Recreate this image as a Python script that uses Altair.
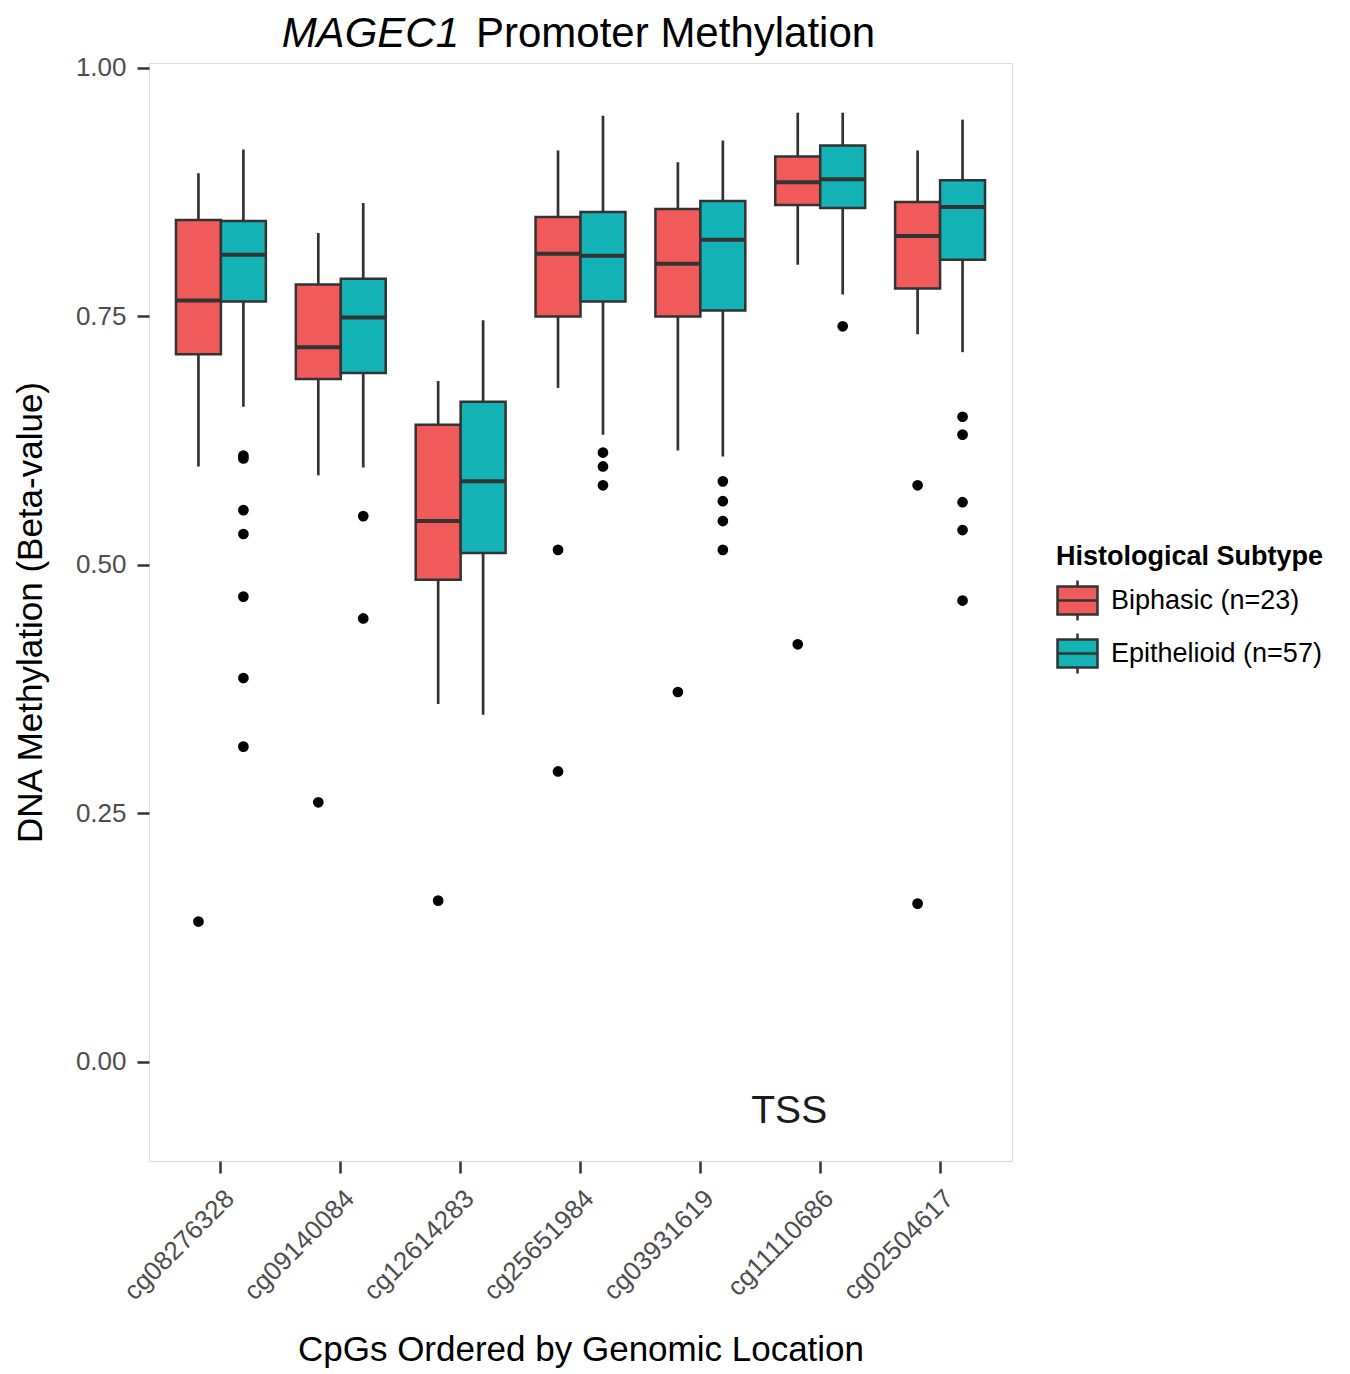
import altair as alt
import pandas as pd

cpgs = ["cg08276328", "cg09140084", "cg12614283", "cg25651984",
        "cg03931619", "cg11110686", "cg02504617"]
subtypes = ["Biphasic (n=23)", "Epithelioid (n=57)"]
colors = ["#F15A5A", "#13B3B5"]

# Biphasic box statistics
bi_lower = [0.599, 0.590, 0.360, 0.678, 0.615, 0.802, 0.732]
bi_q1 = [0.712, 0.687, 0.485, 0.750, 0.750, 0.862, 0.778]
bi_median = [0.766, 0.719, 0.544, 0.813, 0.803, 0.885, 0.831]
bi_q3 = [0.847, 0.782, 0.641, 0.850, 0.858, 0.911, 0.865]
bi_upper = [0.894, 0.834, 0.685, 0.917, 0.905, 0.955, 0.917]
bi_outliers = [[0.141], [0.261], [0.162], [0.515, 0.292], [0.372], [0.420], [0.580, 0.159]]

# Epithelioid box statistics
ep_lower = [0.659, 0.598, 0.349, 0.631, 0.609, 0.772, 0.714]
ep_q1 = [0.765, 0.693, 0.512, 0.765, 0.756, 0.859, 0.807]
ep_median = [0.812, 0.749, 0.584, 0.811, 0.827, 0.888, 0.860]
ep_q3 = [0.846, 0.788, 0.664, 0.855, 0.866, 0.922, 0.887]
ep_upper = [0.918, 0.864, 0.746, 0.952, 0.927, 0.955, 0.948]
ep_outliers = [[0.610, 0.607, 0.555, 0.531, 0.468, 0.386, 0.317], [0.549, 0.446], [],
               [0.613, 0.599, 0.580], [0.584, 0.564, 0.544, 0.515], [0.740],
               [0.649, 0.631, 0.563, 0.535, 0.464]]

y_ticks = [0.0, 0.25, 0.5, 0.75, 1.0]

rows = []
out_rows = []
for sub, lo, q1, md, q3, up, outs in [
    (subtypes[0], bi_lower, bi_q1, bi_median, bi_q3, bi_upper, bi_outliers),
    (subtypes[1], ep_lower, ep_q1, ep_median, ep_q3, ep_upper, ep_outliers),
]:
    for i, c in enumerate(cpgs):
        rows.append(dict(cpg=c, subtype=sub, lower=lo[i], q1=q1[i], median=md[i],
                         q3=q3[i], upper=up[i]))
        for v in outs[i]:
            out_rows.append(dict(cpg=c, subtype=sub, value=v))

stats = pd.DataFrame(rows)
outl = pd.DataFrame(out_rows)

xenc = alt.X("cpg:N", sort=cpgs,
             scale=alt.Scale(paddingInner=0, paddingOuter=0.1),
             axis=alt.Axis(title="CpGs Ordered by Genomic Location", labelAngle=315,
                           labelAlign="right", labelBaseline="top",
                           labelFontSize=26, labelColor="#4d4d4d", labelPadding=12,
                           titleFontSize=35, titleFontWeight="normal", titleColor="#000000",
                           titlePadding=28, tickSize=12, tickWidth=2.5, tickColor="#333333",
                           domain=False, grid=False))
xoff = alt.XOffset("subtype:N", sort=subtypes,
                   scale=alt.Scale(paddingInner=0, paddingOuter=0.3333))
yscale = alt.Scale(domain=[-0.1, 1.005], nice=False, zero=False)
yaxis = alt.Axis(title="DNA Methylation (Beta-value)", values=y_ticks, format=".2f",
                 labelFontSize=26, labelColor="#4d4d4d", labelPadding=11,
                 titleFontSize=35, titleFontWeight="normal", titleColor="#000000",
                 titlePadding=27, tickSize=12, tickWidth=2.5, tickColor="#333333",
                 domain=False, grid=False)

base = alt.Chart(stats)

whisk = base.mark_rule(color="#333333", strokeWidth=2.7).encode(
    x=xenc, xOffset=xoff,
    y=alt.Y("lower:Q", scale=yscale, axis=yaxis), y2="upper:Q")

box = base.mark_bar(stroke="#333333", strokeWidth=2.5, opacity=1).encode(
    x=xenc, xOffset=xoff,
    y=alt.Y("q1:Q", scale=yscale, axis=yaxis), y2="q3:Q",
    color=alt.Color("subtype:N", sort=subtypes,
                    scale=alt.Scale(domain=subtypes, range=colors),
                    legend=alt.Legend(
                        title="Histological Subtype", orient="none",
                        legendX=907, legendY=481,
                        titleFontSize=27, titleFontWeight="bold", titleColor="#000000",
                        titlePadding=8, labelFontSize=27, labelColor="#000000",
                        labelOffset=12, rowPadding=2, labelLimit=0, titleLimit=0,
                        symbolType="M-1,-0.7H1V0.7H-1Z M-1,0H1 M0,-0.7V-1 M0,0.7V1",
                        symbolSize=1600, symbolStrokeColor="#333333",
                        symbolStrokeWidth=2.5, symbolOpacity=1)))

med = base.mark_tick(color="#333333", thickness=4, size=45, opacity=1).encode(
    x=xenc, xOffset=xoff, y=alt.Y("median:Q", scale=yscale, axis=yaxis))

pts = alt.Chart(outl).mark_circle(color="#000000", size=115, opacity=1).encode(
    x=xenc, xOffset=xoff, y=alt.Y("value:Q", scale=yscale, axis=yaxis))

tss = alt.Chart(pd.DataFrame({"cpg": ["cg11110686"], "y": [-0.05], "t": ["TSS"]})).mark_text(
    fontSize=39, color="#1a1a1a", dx=-31, baseline="middle", font="Liberation Sans").encode(
    x=xenc, y=alt.Y("y:Q", scale=yscale, axis=yaxis), text="t:N")

title_df = pd.DataFrame({"a": ["MAGEC1"], "b": ["Promoter Methylation"]})
t1 = alt.Chart(title_df).mark_text(fontSize=42, fontStyle="italic", align="right",
                                   baseline="alphabetic", color="#000000",
                                   font="Liberation Sans").encode(
    x=alt.value(310), y=alt.value(-16), text="a:N")
t2 = alt.Chart(title_df).mark_text(fontSize=42, align="left",
                                   baseline="alphabetic", color="#000000",
                                   font="Liberation Sans").encode(
    x=alt.value(327), y=alt.value(-16), text="b:N")

chart = alt.layer(whisk, box, med, pts, tss, t1, t2).properties(
    width=863, height=1098,
    padding={"left": 5, "top": 5, "right": 5, "bottom": 0}
).configure_view(stroke="#aaaaaa", strokeWidth=2).configure(
    font="Liberation Sans"
).configure_axis(labelFont="Liberation Sans", titleFont="Liberation Sans").configure_legend(
    labelFont="Liberation Sans", titleFont="Liberation Sans")

chart.save("out.html", embed_options={"renderer": "svg", "actions": False})
